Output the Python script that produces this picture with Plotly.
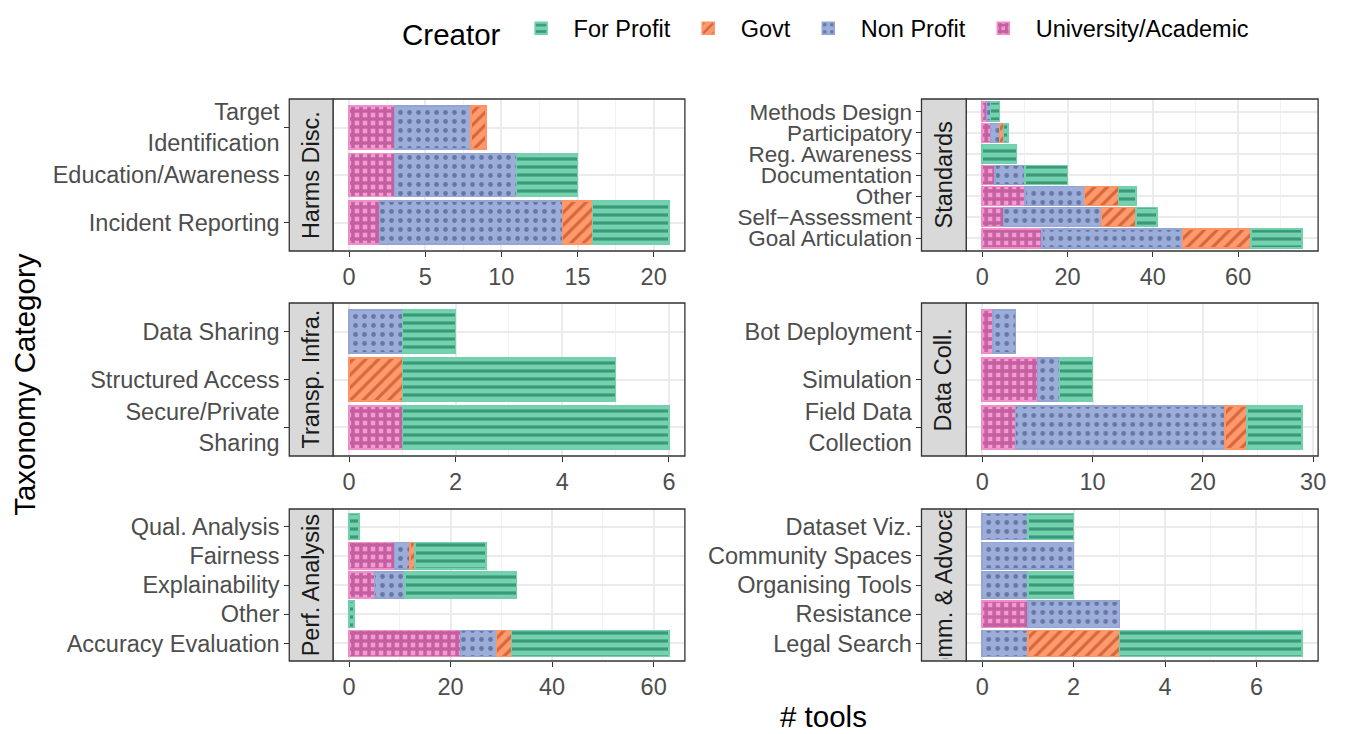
import plotly.graph_objects as go

W, H = 1345, 734

creators = ["For Profit", "Govt", "Non Profit", "University/Academic"]

# categories listed bottom -> top
harms_cats = ["Incident Reporting", "Education/Awareness", "Target<br>Identification"]
harms_uni = [2, 3, 3]
harms_np = [12, 8, 5]
harms_govt = [2, 0, 1]
harms_fp = [5, 4, 0]

standards_cats = ["Goal Articulation", "Self\u2212Assessment", "Other", "Documentation",
                  "Reg. Awareness", "Participatory", "Methods Design"]
standards_uni = [14, 5, 10, 3, 0, 2, 1]
standards_np = [33, 23, 14, 7, 0, 2, 1]
standards_govt = [16, 8, 8, 0, 0, 1, 0]
standards_fp = [12, 5, 4, 10, 8, 1, 2]

transp_cats = ["Secure/Private<br>Sharing", "Structured Access", "Data Sharing"]
transp_uni = [1, 0, 0]
transp_np = [0, 0, 1]
transp_govt = [0, 1, 0]
transp_fp = [5, 4, 1]

datacoll_cats = ["Field Data<br>Collection", "Simulation", "Bot Deployment"]
datacoll_uni = [3, 5, 1]
datacoll_np = [19, 2, 2]
datacoll_govt = [2, 0, 0]
datacoll_fp = [5, 3, 0]

perf_cats = ["Accuracy Evaluation", "Other", "Explainability", "Fairness", "Qual. Analysis"]
perf_uni = [22, 0, 5, 9, 0]
perf_np = [7, 0, 6, 3, 0]
perf_govt = [3, 0, 0, 1, 0]
perf_fp = [31, 1, 22, 14, 2]

comm_cats = ["Legal Search", "Resistance", "Organising Tools", "Community Spaces", "Dataset Viz."]
comm_uni = [0, 1, 0, 0, 0]
comm_np = [1, 2, 1, 2, 1]
comm_govt = [2, 0, 0, 0, 0]
comm_fp = [4, 0, 1, 0, 1]

panels = [
    ("Harms Disc.", harms_cats, harms_uni, harms_np, harms_govt, harms_fp, 5),
    ("Standards", standards_cats, standards_uni, standards_np, standards_govt, standards_fp, 20),
    ("Transp. Infra.", transp_cats, transp_uni, transp_np, transp_govt, transp_fp, 2),
    ("Data Coll.", datacoll_cats, datacoll_uni, datacoll_np, datacoll_govt, datacoll_fp, 10),
    ("Perf. Analysis", perf_cats, perf_uni, perf_np, perf_govt, perf_fp, 20),
    ("Comm. & Advocacy", comm_cats, comm_uni, comm_np, comm_govt, comm_fp, 2),
]

styles = {
    "University/Academic": dict(bg="#f49bd4", fg="#c4609f", line="#ee8fcb", shape="+", size=8, solidity=0.7, rank=4),
    "Non Profit": dict(bg="#9badd8", fg="#6677a4", line="#93a5d2", shape=".", size=9, solidity=0.22, rank=3),
    "Govt": dict(bg="#fd9b6e", fg="#d9663a", line="#fc9466", shape="/", size=9, solidity=0.35, rank=2),
    "For Profit": dict(bg="#74d2b1", fg="#3a9977", line="#72d0ae", shape="-", size=8, solidity=0.4, rank=1),
}

FONT = "Liberation Sans, Arial, sans-serif"
TXT = 23.5
TITLE = 29.5


def fx(px):
    return px / W


def fy(py):
    return 1 - py / H


rows = [(99, 251), (303, 456), (509, 661)]
cols = [(291, 335, 689), (927, 972, 1326)]

fig = go.Figure()
shapes = []
annotations = []
layout_axes = {}

for i, (label, cats, uni, np_, govt, fp, dtick) in enumerate(panels):
    r, c = divmod(i, 2)
    top, bottom = rows[r]
    sx0, px0, px1 = cols[c]
    n = i + 1
    xa = "x" if n == 1 else f"x{n}"
    ya = "y" if n == 1 else f"y{n}"

    series = {"University/Academic": uni, "Non Profit": np_, "Govt": govt, "For Profit": fp}
    for creator in ["University/Academic", "Non Profit", "Govt", "For Profit"]:
        st = styles[creator]
        vals = [v if v else None for v in series[creator]]
        fig.add_trace(go.Bar(
            y=cats, x=vals, orientation="h", width=0.9,
            xaxis=xa, yaxis=ya,
            name=creator, legendgroup=creator, showlegend=(i == 0), legendrank=st["rank"],
            marker=dict(
                color=st["bg"],
                line=dict(color=st["line"], width=1.5),
                pattern=dict(shape=st["shape"], fgcolor=st["fg"], bgcolor=st["bg"],
                             size=st["size"], solidity=st["solidity"], fillmode="replace"),
            ),
        ))

    totals = [a + b + g + f for a, b, g, f in zip(uni, np_, govt, fp)]
    mx = max(totals)
    ysize = 22.5 if len(cats) > 5 else TXT
    layout_axes["xaxis" if n == 1 else f"xaxis{n}"] = dict(
        domain=[fx(px0), fx(px1)], anchor=ya,
        range=[-0.05 * mx, 1.05 * mx], tick0=0, dtick=dtick,
        showgrid=True, gridcolor="#ebebeb", gridwidth=1.6,
        minor=dict(dtick=dtick / 2, tick0=0, showgrid=True, gridcolor="#f2f2f2", gridwidth=0.9),
        zeroline=False, showline=False,
        ticks="outside", ticklen=5, tickwidth=1.3, tickcolor="#333333",
        tickfont=dict(size=TXT, color="#4d4d4d", family=FONT),
    )
    layout_axes["yaxis" if n == 1 else f"yaxis{n}"] = dict(
        domain=[fy(bottom), fy(top)], anchor="free", position=fx(sx0),
        type="category", categoryorder="array", categoryarray=cats,
        range=[-0.6, len(cats) - 0.4], tick0=0, dtick=1,
        showgrid=True, gridcolor="#ebebeb", gridwidth=1.6,
        zeroline=False, showline=False,
        ticks="outside", ticklen=5, tickwidth=1.3, tickcolor="#333333",
        tickfont=dict(size=ysize, color="#4d4d4d", family=FONT),
    )

    # panel border
    shapes.append(dict(type="rect", xref="paper", yref="paper",
                       x0=fx(px0), x1=fx(px1), y0=fy(bottom), y1=fy(top),
                       line=dict(color="#333333", width=1.3), fillcolor="rgba(0,0,0,0)", layer="above"))
    # strip on the left of the panel
    shapes.append(dict(type="rect", xref="paper", yref="paper",
                       x0=fx(sx0), x1=fx(px0), y0=fy(bottom), y1=fy(top),
                       line=dict(color="#333333", width=1.3), fillcolor="#d9d9d9", layer="above"))
    annotations.append(dict(
        text=label, x=fx((sx0 + px0) / 2), y=fy((top + bottom) / 2), xref="paper", yref="paper",
        xanchor="center", yanchor="middle",
        textangle=-90, showarrow=False, width=bottom - top - 4,
        font=dict(size=TXT, color="#1a1a1a", family=FONT),
    ))

annotations.append(dict(text="# tools", x=fx(828), y=fy(716), xref="paper", yref="paper",
                        xanchor="center", yanchor="middle",
                        showarrow=False, font=dict(size=TITLE, color="black", family=FONT)))
annotations.append(dict(text="Taxonomy Category", x=fx(25), y=fy(384), xref="paper", yref="paper",
                        xanchor="center", yanchor="middle",
                        textangle=-90, showarrow=False, font=dict(size=TITLE, color="black", family=FONT)))

fig.update_layout(
    width=W, height=H,
    margin=dict(l=0, r=0, t=0, b=0),
    barmode="stack",
    plot_bgcolor="white", paper_bgcolor="white",
    font=dict(family=FONT, color="black"),
    shapes=shapes, annotations=annotations,
    legend=dict(
        orientation="h", x=fx(832), xanchor="center", y=fy(31), yanchor="middle",
        title=dict(text="Creator", font=dict(size=TITLE, color="black")),
        font=dict(size=TXT, color="black"),
        itemwidth=55,
        bgcolor="rgba(0,0,0,0)",
    ),
    **layout_axes,
)

# drop the default body margin so the figure fills the window exactly
fig.write_html("out.html", config={"displayModeBar": False},
               post_script="document.body.style.margin='0px';")
